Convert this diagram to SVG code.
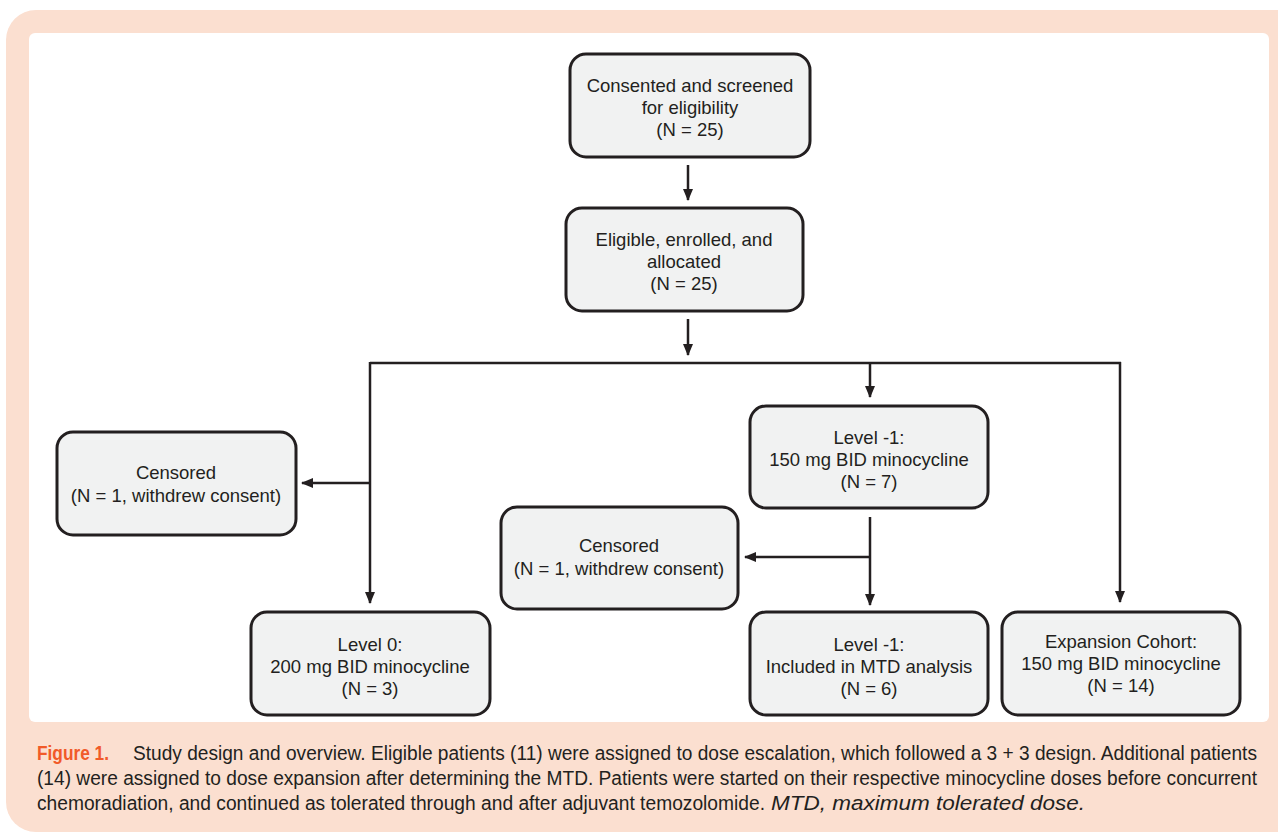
<svg xmlns="http://www.w3.org/2000/svg" width="1278" height="836" viewBox="0 0 1278 836">
<defs>
<style>
.bg{fill:#FBDFD0}
.panel{fill:#FFFFFF}
.box{fill:#F1F2F2;stroke:#231F20;stroke-width:3}
.t{font-family:"Liberation Sans",Arial,sans-serif;font-size:18.5px;fill:#231F20;text-anchor:middle}
.c{stroke:#231F20;stroke-width:2.5;fill:none}
.cap{font-family:"Liberation Sans",Arial,sans-serif;font-size:17px;fill:#231F20}
.capb{font-family:"Liberation Sans",Arial,sans-serif;font-size:17px;font-weight:bold;fill:#F15A29}
.capi{font-family:"Liberation Sans",Arial,sans-serif;font-size:20px;font-style:italic;fill:#231F20}
</style>
<marker id="ah" markerWidth="12" markerHeight="12" viewBox="0 0 12 12" refX="11" refY="6" orient="auto" markerUnits="userSpaceOnUse">
<path d="M0,1 L12,6 L0,11 Z" fill="#231F20"/>
</marker>
</defs>
<rect class="bg" x="6" y="10" width="1300" height="822" rx="30"/>
<rect class="panel" x="29" y="33" width="1240" height="689" rx="6"/>

<g id="connectors">
<line class="c" x1="688" y1="165" x2="688" y2="200" marker-end="url(#ah)"/>
<line class="c" x1="688" y1="319" x2="688" y2="355" marker-end="url(#ah)"/>
<line class="c" x1="370" y1="363" x2="1121" y2="363"/>
<line class="c" x1="370" y1="362" x2="370" y2="603" marker-end="url(#ah)"/>
<line class="c" x1="371" y1="483" x2="302" y2="483" marker-end="url(#ah)"/>
<line class="c" x1="870" y1="362" x2="870" y2="397" marker-end="url(#ah)"/>
<line class="c" x1="870" y1="517" x2="870" y2="605" marker-end="url(#ah)"/>
<line class="c" x1="871" y1="557" x2="745" y2="557" marker-end="url(#ah)"/>
<line class="c" x1="1120" y1="362" x2="1120" y2="602" marker-end="url(#ah)"/>
</g>

<g id="n1">
<rect class="box" x="570" y="54" width="240" height="103" rx="16"/>
<text class="t" x="690" y="92">Consented and screened</text>
<text class="t" x="690" y="114">for eligibility</text>
<text class="t" x="690" y="136">(N = 25)</text>
</g>
<g id="n2">
<rect class="box" x="566" y="208" width="237" height="103" rx="16"/>
<text class="t" x="684" y="246">Eligible, enrolled, and</text>
<text class="t" x="684" y="268">allocated</text>
<text class="t" x="684" y="290">(N = 25)</text>
</g>
<g id="n3">
<rect class="box" x="57" y="432" width="239" height="103" rx="16"/>
<text class="t" x="176" y="479">Censored</text>
<text class="t" x="176" y="502">(N = 1, withdrew consent)</text>
</g>
<g id="n4">
<rect class="box" x="251" y="612" width="239" height="103" rx="16"/>
<text class="t" x="370" y="651">Level 0:</text>
<text class="t" x="370" y="673">200 mg BID minocycline</text>
<text class="t" x="370" y="695">(N = 3)</text>
</g>
<g id="n5">
<rect class="box" x="750" y="406" width="238" height="102" rx="16"/>
<text class="t" x="869" y="444">Level -1:</text>
<text class="t" x="869" y="466">150 mg BID minocycline</text>
<text class="t" x="869" y="488">(N = 7)</text>
</g>
<g id="n6">
<rect class="box" x="501" y="507" width="237" height="102" rx="16"/>
<text class="t" x="619" y="552">Censored</text>
<text class="t" x="619" y="575">(N = 1, withdrew consent)</text>
</g>
<g id="n7">
<rect class="box" x="750" y="612" width="238" height="103" rx="16"/>
<text class="t" x="869" y="651">Level -1:</text>
<text class="t" x="869" y="673">Included in MTD analysis</text>
<text class="t" x="869" y="695">(N = 6)</text>
</g>
<g id="n8">
<rect class="box" x="1002" y="612" width="238" height="103" rx="16"/>
<text class="t" x="1121" y="648">Expansion Cohort:</text>
<text class="t" x="1121" y="670">150 mg BID minocycline</text>
<text class="t" x="1121" y="692">(N = 14)</text>
</g>

<g id="caption">
<g transform="scale(1,1.15)">
<text class="capb" x="37" y="660.9" textLength="72" lengthAdjust="spacingAndGlyphs">Figure 1.</text>
<text class="cap" x="133" y="660.9" textLength="1124" lengthAdjust="spacingAndGlyphs">Study design and overview. Eligible patients (11) were assigned to dose escalation, which followed a 3 + 3 design. Additional patients</text>
<text class="cap" x="37" y="682.6" textLength="1220" lengthAdjust="spacingAndGlyphs">(14) were assigned to dose expansion after determining the MTD. Patients were started on their respective minocycline doses before concurrent</text>
<text class="cap" x="37" y="704.3" textLength="728" lengthAdjust="spacingAndGlyphs">chemoradiation, and continued as tolerated through and after adjuvant temozolomide.</text>
</g>
<text class="capi" x="771" y="810" textLength="314" lengthAdjust="spacingAndGlyphs">MTD, maximum tolerated dose.</text>
</g>
</svg>
